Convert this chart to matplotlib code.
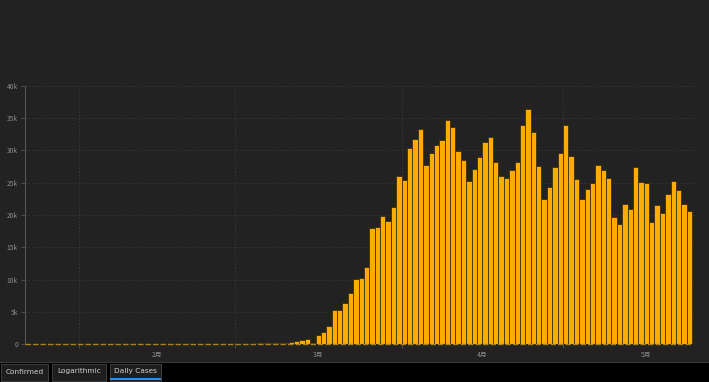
import matplotlib
matplotlib.use("Agg")
import matplotlib.pyplot as plt
import matplotlib.dates as mdates
from matplotlib.patches import Rectangle
import pandas as pd
import numpy as np

plt.rcParams['font.family'] = ['Noto Sans CJK SC', 'DejaVu Sans']

# ---------------- data ----------------
start_date = "2020-01-22"
jan_cases = [1, 0, 1, 0, 3, 0, 0, 0, 1, 2]
feb_cases = [1, 0, 3, 0, 1, 0, 0, 0, 1, 0, 1, 0, 1, 0, 0, 0, 0, 0, 0, 0,
             19, 0, 0, 15, 0, 0, 1, 2, 8]
mar_cases = [30, 40, 50, 70, 155, 155, 155, 155, 160, 260, 360, 515, 620, 770,
             200, 1390, 1850, 2780, 5250, 5290, 6370, 7920, 10130, 10330, 11930,
             18040, 18090, 19840, 19120, 21280, 26010]
apr_cases = [25490, 30380, 31820, 33260, 27810, 29560, 30840, 31560, 34640, 33560,
             29920, 28530, 25290, 27090, 28990, 31250, 32070, 28270, 26010, 25750,
             26990, 28170, 33980, 36340, 32790, 27600, 22460, 24360, 27400, 29610]
may_cases = [33980, 29090, 25550, 22410, 24000, 24980, 27710, 26930, 25650, 19740,
             18660, 21740, 20870, 27400, 25140, 24980, 18970, 21590, 20250, 23280,
             25290, 23850, 21640, 20660]
daily_cases = jan_cases + feb_cases + mar_cases + apr_cases + may_cases
dates = pd.date_range(start_date, periods=len(daily_cases), freq="D")

month_starts = pd.to_datetime(["2020-02-01", "2020-03-01", "2020-04-01", "2020-05-01"])
month_labels = ["2月", "3月", "4月", "5月"]
y_ticks = [0, 5000, 10000, 15000, 20000, 25000, 30000, 35000, 40000]
y_labels = ["0", "5k", "10k", "15k", "20k", "25k", "30k", "35k", "40k"]
tab_names = ["Confirmed", "Logarithmic", "Daily Cases"]

# ---------------- figure ----------------
W, H = 709, 382
fig = plt.figure(figsize=(W / 100, H / 100), dpi=100, facecolor="#222222")

def fx(px):
    return px / W

def fy(py):
    return 1 - py / H

ax_left, ax_right, ax_top, ax_bot = 25, 695, 85.7, 344.3
ax = fig.add_axes([fx(ax_left), fy(ax_bot), fx(ax_right - ax_left), (ax_bot - ax_top) / H])
ax.set_facecolor("#222222")

x_start = mdates.date2num(dates[0])
x_end = x_start + (ax_right - ax_left) / 5.38
ax.set_xlim(x_start, x_end)
ax.set_ylim(0, 40000)

ax.bar(mdates.date2num(dates), daily_cases, width=1.0, align="edge",
       color="#FFAB00", edgecolor="#2e2408", linewidth=0.5, zorder=3)

# zero baseline (dashed orange look of zero-height bars)
ax.plot([x_start, mdates.date2num(dates[-1]) + 1], [0, 0], color="#a8801c", lw=1.0,
        ls=(0, (4, 1.4)), zorder=4, clip_on=False)

# grid
for yv in y_ticks[1:]:
    ax.axhline(yv, color="#3b3b3b", lw=0.7, ls=(0, (1.2, 2.2)), zorder=0)
for ms in month_starts:
    ax.axvline(mdates.date2num(ms), color="#3b3b3b", lw=0.7, ls=(0, (1.2, 2.2)), zorder=0)

# y axis
ax.set_yticks(y_ticks)
ax.set_yticklabels(y_labels)
ax.tick_params(axis="y", colors="#555555", labelcolor="#8a8a8a", labelsize=4.8,
               length=3, width=0.6, pad=2)

# x axis: ticks at month starts, labels at month centers
ax.set_xticks(mdates.date2num(month_starts))
ax.set_xticklabels([])
ax.tick_params(axis="x", which="major", colors="#555555", length=3, width=0.6)
centers = []
for ms in month_starts:
    me = ms + pd.offsets.MonthBegin(1)
    centers.append(mdates.date2num(ms) + (mdates.date2num(me) - mdates.date2num(ms)) / 2)
ax.set_xticks(centers, minor=True)
ax.set_xticklabels(month_labels, minor=True)
ax.tick_params(axis="x", which="minor", length=0, labelcolor="#8a8a8a", labelsize=4.9, pad=5)

for s in ["top", "right", "bottom"]:
    ax.spines[s].set_visible(False)
ax.spines["left"].set_color("#555555")
ax.spines["left"].set_linewidth(0.8)

# ---------------- tab strip ----------------
fig.patches.append(Rectangle((0, 0), 1, (H - 362) / H, transform=fig.transFigure,
                             facecolor="#000000", edgecolor="none", zorder=0))
fig.patches.append(Rectangle((0, (H - 362.5) / H), 1, 0.7 / H, transform=fig.transFigure,
                             facecolor="#3a3a3a", edgecolor="none", zorder=1))
tab_boxes = [(1, 48), (52, 106), (110, 161)]
for i, (name, (x0, x1)) in enumerate(zip(tab_names, tab_boxes)):
    fig.patches.append(Rectangle((fx(x0), fy(381)), fx(x1 - x0), 17.5 / H,
                                 transform=fig.transFigure, facecolor="#1e1e1e",
                                 edgecolor="#3e3e3e", linewidth=0.7, zorder=2))
    fig.text(fx((x0 + x1) / 2), fy(371.5), name, ha="center", va="center",
             color="#cfcfcf", fontsize=5.3, zorder=3,
             family=["DejaVu Sans"])
    if i == 2:
        fig.patches.append(Rectangle((fx(x0), fy(379.5)), fx(x1 - x0), 1.5 / H,
                                     transform=fig.transFigure, facecolor="#2f8fe6",
                                     edgecolor="none", zorder=4))

fig.savefig("out.png", dpi=100, facecolor=fig.get_facecolor())
